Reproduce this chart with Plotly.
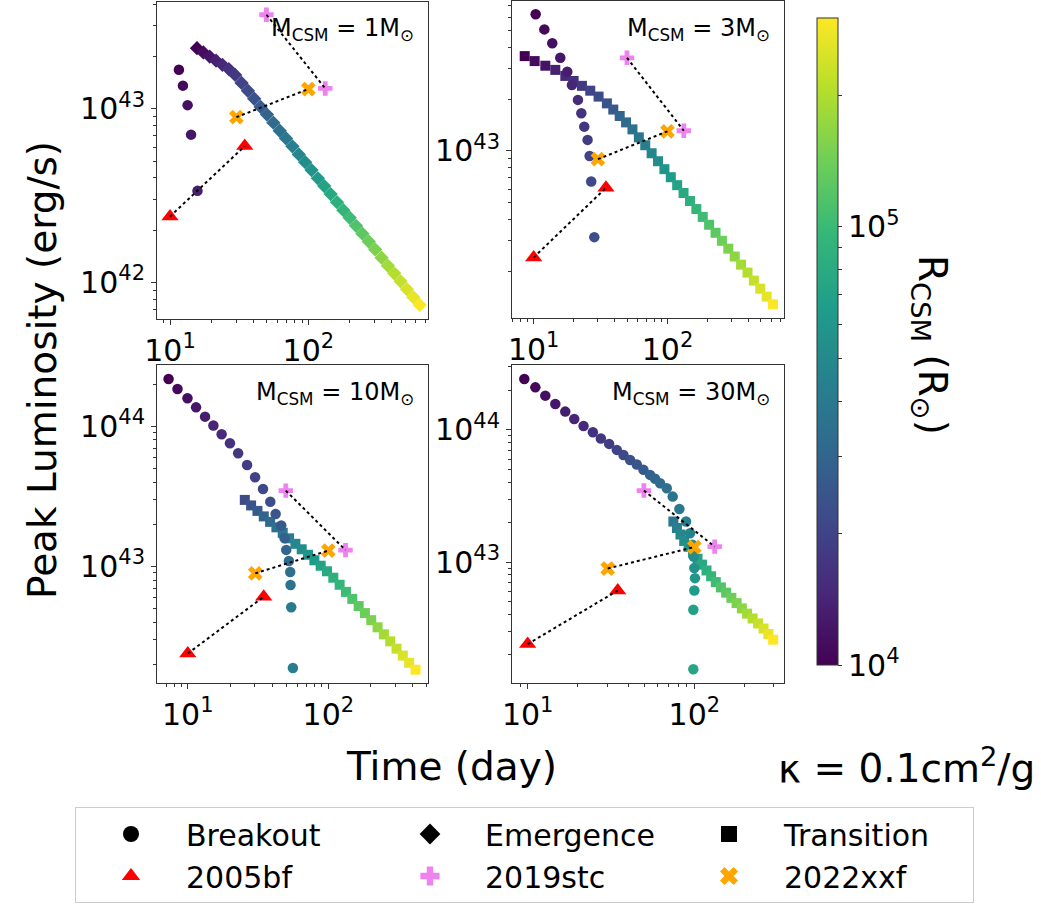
import plotly.graph_objects as go

# ---------------- data ----------------
# colour value: log10(R_CSM / R_sun)
logR_coarse = [4.00, 4.04, 4.08, 4.13, 4.17, 4.21, 4.25, 4.30, 4.34, 4.38, 4.42, 4.47,
               4.51, 4.55, 4.59, 4.63, 4.68, 4.72, 4.76, 4.80, 4.85, 4.89, 4.93, 4.97,
               5.01, 5.06, 5.10, 5.14, 5.18, 5.22, 5.27, 5.31, 5.35, 5.39, 5.43, 5.48]
logR_fine = [4.00, 4.03, 4.06, 4.09, 4.12, 4.15, 4.18, 4.21, 4.24, 4.27, 4.30, 4.33,
             4.36, 4.39, 4.42, 4.45, 4.48, 4.51, 4.54, 4.57, 4.60, 4.63, 4.66, 4.69,
             4.72, 4.75, 4.78, 4.81, 4.84, 4.87]

# Panel 1: M_CSM = 1 Msun  (time in days, luminosity in 1e42 erg/s)
p1_bo_t = [11.6, 12.4, 13.4, 14.2, 15.8]
p1_bo_L = [16.8, 13.6, 10.5, 7.1, 3.37]
p1_em_t = [15.67, 17.42, 19.36, 21.53, 23.93, 26.61, 29.58, 32.89, 36.56, 40.64, 45.19, 50.23,
           55.85, 62.09, 69.02, 76.74, 85.31, 94.84, 105.4, 117.2, 130.3, 144.9, 161.1, 179.1,
           199.1, 221.3, 246.0, 273.5, 304.1, 338.1, 375.8, 417.8, 464.5, 516.4, 574.1, 638.3]
p1_em_L = [22.34, 21.13, 20.00, 18.92, 17.91, 16.94, 15.67, 14.09, 12.71, 11.43, 10.26, 9.27,
           8.32, 7.48, 6.75, 6.08, 5.46, 4.93, 4.44, 3.98, 3.59, 3.23, 2.90, 2.61,
           2.36, 2.12, 1.91, 1.72, 1.55, 1.39, 1.25, 1.13, 1.016, 0.914, 0.824, 0.743]

# Panel 2: M_CSM = 3 Msun
p2_bo_t = [10.35, 12.02, 13.77, 15.81, 17.83, 19.32, 21.42, 22.70, 23.88, 25.29, 26.18, 26.92, 28.38]
p2_bo_L = [62.4, 50.9, 42.3, 34.8, 28.9, 24.2, 19.8, 16.56, 13.84, 11.59, 9.35, 6.64, 3.15]
p2_tr_t = [8.57, 10.17, 12.22, 14.51, 17.23, 19.89, 22.95, 26.48, 30.56, 35.26, 39.36, 43.95,
           49.04, 54.74, 61.10, 68.21, 76.13, 85.00, 94.87, 105.9, 118.2, 131.9, 147.3, 164.4,
           183.5, 204.8, 228.7, 255.3, 284.9, 318.1, 355.0, 396.3, 442.4, 493.7, 551.2, 615.2]
p2_tr_L = [35.6, 33.3, 31.3, 29.6, 27.3, 25.5, 23.9, 22.4, 20.7, 18.9, 17.4, 15.96,
           14.65, 13.34, 11.99, 10.79, 9.69, 8.71, 7.83, 7.03, 6.32, 5.69, 5.11, 4.59,
           4.13, 3.72, 3.34, 3.00, 2.70, 2.43, 2.18, 1.96, 1.76, 1.58, 1.42, 1.28]

# Panel 3: M_CSM = 10 Msun
p3_bo_t = [7.30, 8.45, 9.95, 11.45, 13.27, 15.21, 17.41, 19.95, 22.82, 26.42, 30.11, 34.30,
           38.64, 42.17, 46.24, 48.84, 50.16, 52.40, 53.55, 53.83, 54.44, 55.95]
p3_bo_L = [217.3, 184.6, 158.5, 136.5, 117.2, 101.2, 87.7, 75.7, 64.3, 53.0, 43.3, 35.7,
           29.0, 23.7, 19.6, 15.9, 13.15, 10.97, 9.16, 7.40, 5.13, 1.89]
p3_tr_t = [25.45, 28.22, 31.30, 34.72, 38.51, 42.72, 47.37, 52.54, 58.29, 64.63, 71.68, 79.55,
           88.19, 97.79, 108.5, 120.3, 133.4, 148.0, 164.2, 182.0, 201.9, 224.0, 248.3, 275.5,
           305.6, 338.8, 375.8, 417.2]
p3_tr_L = [29.87, 27.29, 24.94, 22.79, 20.83, 19.04, 17.40, 15.90, 14.53, 13.28, 12.14, 11.09,
           10.14, 9.26, 8.33, 7.42, 6.60, 5.88, 5.23, 4.66, 4.15, 3.69, 3.29, 2.93,
           2.60, 2.32, 2.06, 1.84]

# Panel 4: M_CSM = 30 Msun
p4_bo_t = [9.55, 11.12, 12.76, 14.65, 16.81, 19.03, 21.64, 24.61, 27.49, 30.83, 34.27, 37.57,
           41.19, 45.16, 49.51, 54.27, 58.15, 62.31, 68.31, 74.18, 81.34, 89.17, 94.21, 97.28,
           99.08, 100.0, 100.9, 100.0, 98.63, 98.63]
p4_bo_L = [242.7, 209.9, 181.6, 157.1, 137.6, 121.1, 107.2, 96.0, 86.1, 78.4, 70.6, 64.7,
           59.3, 54.7, 49.9, 45.7, 42.7, 39.5, 36.2, 31.3, 25.2, 20.3, 16.56, 13.52,
           11.04, 9.02, 7.57, 6.11, 4.37, 1.55]
p4_tr_t = [74.86, 78.63, 82.57, 86.93, 92.40, 98.26, 104.5, 111.1, 118.3, 126.1, 134.5, 144.3,
           155.2, 166.8, 179.3, 192.8, 207.3, 223.6, 241.3, 260.2, 278.0, 297.2]
p4_tr_L = [20.29, 18.13, 16.18, 14.47, 13.05, 11.77, 10.61, 9.58, 8.65, 7.82, 7.07, 6.44,
           5.88, 5.37, 4.90, 4.47, 4.08, 3.75, 3.44, 3.15, 2.86, 2.59]

# observed supernovae (day, erg/s)
sn2005bf_t = [10.0, 34.7]
sn2005bf_L = [2.40e42, 6.10e42]
sn2019stc_t = [49.8, 132.5]
sn2019stc_L = [3.48e43, 1.31e43]
sn2022xxf_t = [30.2, 100.0]
sn2022xxf_L = [8.95e42, 1.30e43]

mass_labels = ["1", "3", "10", "30"]

# ---------------- layout helpers ----------------
W, H = 1041, 907
FONT = "DejaVu Sans"
AXC = "#333333"

def px_x(p):
    return p / W

def px_y(p):
    return 1 - p / H

panels = [
    dict(xd=[157, 428], yd=[2, 319], xr=[0.906, 2.865], yr=[41.790, 43.615],
         bo=(p1_bo_t, p1_bo_L, logR_fine[:5]),
         mdl=(p1_em_t, p1_em_L, logR_coarse, "diamond", 11)),
    dict(xd=[512, 784], yd=[1, 318], xr=[0.838, 2.871], yr=[42.028, 43.872],
         bo=(p2_bo_t, p2_bo_L, logR_fine[:13]),
         mdl=(p2_tr_t, p2_tr_L, logR_coarse, "square", 10)),
    dict(xd=[157, 428], yd=[365, 683], xr=[0.781, 2.709], yr=[42.170, 44.437],
         bo=(p3_bo_t, p3_bo_L, logR_fine[:22]),
         mdl=(p3_tr_t, p3_tr_L, logR_coarse[8:], "square", 10)),
    dict(xd=[512, 784], yd=[365, 683], xr=[0.906, 2.538], yr=[42.086, 44.491],
         bo=(p4_bo_t, p4_bo_L, logR_fine[:30]),
         mdl=(p4_tr_t, p4_tr_L, logR_coarse[14:], "square", 10)),
]

def minor_vals(lo, hi):
    out = []
    for d in range(int(lo) - 1, int(hi) + 2):
        for m in range(2, 10):
            out.append(float(m) * 10.0 ** d)
    return out

def sup(e):
    return "10<sup>%d</sup>" % e

fig = go.Figure()
layout = dict(width=W, height=H, margin=dict(l=0, r=0, t=0, b=0, autoexpand=False),
              paper_bgcolor="white", plot_bgcolor="white",
              font=dict(family=FONT, color="black"), annotations=[])

for i, p in enumerate(panels):
    k = "" if i == 0 else str(i + 1)
    xa, ya = "x" + k, "y" + k
    xdecs = [e for e in range(0, 5) if p["xr"][0] <= e <= p["xr"][1]]
    ydecs = [e for e in range(40, 46) if p["yr"][0] <= e <= p["yr"][1]]
    common = dict(type="log", showgrid=False, zeroline=False, showline=True, mirror=True,
                  linecolor=AXC, linewidth=1, ticks="outside", ticklen=5, tickwidth=1,
                  tickcolor=AXC, tickfont=dict(size=30, family=FONT, color="black"))
    layout["xaxis" + k] = dict(common, domain=[px_x(p["xd"][0]), px_x(p["xd"][1])],
                               range=p["xr"], anchor=ya,
                               tickvals=[10.0 ** e for e in xdecs], ticktext=[sup(e) for e in xdecs],
                               minor=dict(ticks="outside", ticklen=3, tickwidth=1, tickcolor=AXC,
                                          tickvals=minor_vals(*p["xr"])))
    layout["yaxis" + k] = dict(common, domain=[px_y(p["yd"][1]), px_y(p["yd"][0])],
                               range=p["yr"], anchor=xa,
                               tickvals=[10.0 ** e for e in ydecs], ticktext=[sup(e) for e in ydecs],
                               minor=dict(ticks="outside", ticklen=3, tickwidth=1, tickcolor=AXC,
                                          tickvals=minor_vals(*p["yr"])))

    mt, mL, mc, msym, msz = p["mdl"]
    fig.add_trace(go.Scatter(x=mt, y=[v * 1e42 for v in mL], mode="markers", xaxis=xa, yaxis=ya,
                             showlegend=False, hoverinfo="skip",
                             marker=dict(symbol=msym, size=msz, color=mc, coloraxis="coloraxis",
                                         line=dict(width=0))))
    bt, bL, bc = p["bo"]
    fig.add_trace(go.Scatter(x=bt, y=[v * 1e42 for v in bL], mode="markers", xaxis=xa, yaxis=ya,
                             showlegend=False, hoverinfo="skip",
                             marker=dict(symbol="circle", size=10.5, color=bc, coloraxis="coloraxis",
                                         line=dict(width=0))))
    for (tt, LL, sym, col, sz) in [(sn2005bf_t, sn2005bf_L, "triangle-up", "#ff0000", 15),
                                    (sn2019stc_t, sn2019stc_L, "cross", "#ee82ee", 12),
                                    (sn2022xxf_t, sn2022xxf_L, "x", "#ffa500", 13)]:
        fig.add_trace(go.Scatter(x=tt, y=LL, mode="markers", xaxis=xa, yaxis=ya, showlegend=False,
                                 marker=dict(symbol=sym, size=sz, color=col, line=dict(width=0))))
    for (tt, LL) in [(sn2005bf_t, sn2005bf_L), (sn2019stc_t, sn2019stc_L), (sn2022xxf_t, sn2022xxf_L)]:
        fig.add_trace(go.Scatter(x=tt, y=LL, mode="lines", xaxis=xa, yaxis=ya, showlegend=False,
                                 line=dict(color="black", width=2, dash="dot")))
    layout["annotations"].append(dict(
        text="M<sub>CSM</sub> = %sM<sub>⊙</sub>" % mass_labels[i],
        xref=xa + " domain", yref=ya + " domain", x=1, y=1, xshift=-12, yshift=-28,
        xanchor="right", yanchor="middle", showarrow=False,
        font=dict(size=24, family=FONT, color="black")))

# legend entries (black model markers + observed supernovae)
legend_items = [("Breakout", "circle", "black"), ("Emergence", "diamond", "black"),
                ("Transition", "square", "black"), ("2005bf", "triangle-up", "#ff0000"),
                ("2019stc", "cross", "#ee82ee"), ("2022xxf", "x", "#ffa500")]
for name, sym, col in legend_items:
    fig.add_trace(go.Scatter(x=[None], y=[None], mode="markers", name=name,
                             marker=dict(symbol=sym, size=16, color=col, line=dict(width=0))))

cb_minor = [4 + 0.30103, 4 + 0.47712, 4 + 0.60206, 4 + 0.69897, 4 + 0.77815, 4 + 0.84510,
            4 + 0.90309, 4 + 0.95424, 5 + 0.30103]
layout["coloraxis"] = dict(
    colorscale="Viridis", cmin=4.0, cmax=5.477,
    colorbar=dict(x=px_x(817), xanchor="left", y=px_y(18), yanchor="top",
                  len=647 / H, lenmode="fraction", thickness=21, thicknessmode="pixels",
                  xpad=0, ypad=0, outlinewidth=1, outlinecolor=AXC,
                  ticks="outside", ticklen=4, tickcolor=AXC,
                  tickvals=[4, 5] + cb_minor,
                  ticktext=[sup(4), sup(5)] + [" "] * len(cb_minor),
                  tickfont=dict(size=30, family=FONT, color="black")))

layout["legend"] = dict(orientation="h", x=px_x(75), y=px_y(807), xanchor="left", yanchor="top",
                        entrywidth=184, entrywidthmode="pixels", itemwidth=100,
                        itemsizing="trace", bgcolor="white", bordercolor="#cccccc", borderwidth=1,
                        font=dict(size=30, family=FONT, color="black"), traceorder="normal")

TXT = dict(xref="paper", yref="paper", showarrow=False, xanchor="center", yanchor="middle",
           font=dict(size=39, family=FONT, color="black"))
layout["annotations"] += [
    dict(TXT, text="Peak Luminosity (erg/s)", x=px_x(42), y=px_y(370), textangle=-90),
    dict(TXT, text="Time (day)", x=px_x(451), y=px_y(766)),
    dict(TXT, text="κ = 0.1cm<sup>2</sup>/g", x=px_x(906), y=px_y(766)),
    dict(TXT, text="R<sub>CSM</sub> (R<sub>⊙</sub>)", x=px_x(930), y=px_y(345), textangle=90),
]

fig.update_layout(**layout)
fig.write_html("out.html", config={"displayModeBar": False},
               post_script="document.body.style.margin='0';document.body.style.padding='0';")
